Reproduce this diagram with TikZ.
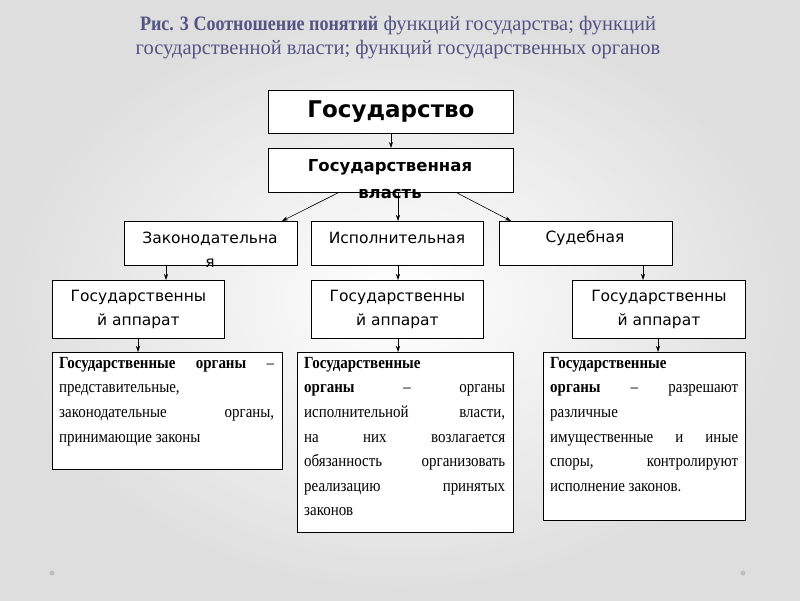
\documentclass[tikz,border=0pt]{standalone}
\usepackage{fontspec}
\usetikzlibrary{arrows.meta}
\setmainfont{Liberation Serif}
\newfontfamily\boxsans{DejaVu Sans}
\newfontfamily\condser[FakeStretch=0.88]{Liberation Serif}
\begin{document}
\begin{tikzpicture}[x=1pt,y=-1pt,
  box/.style={draw=black,line width=0.9pt,fill=white,anchor=north west,inner sep=0pt},
  lbl/.style={font=\boxsans\fontsize{15.5}{24}\selectfont,align=center,inner sep=0pt},
  arr/.style={-{Stealth[length=6pt,width=4pt]},line width=0.6pt},
  desc/.style={anchor=north west,inner sep=0pt,align=justify,font=\condser\fontsize{17}{24.6}\selectfont}]
\useasboundingbox (0,0) rectangle (800,600);
\shade[inner color=white,outer color=black!13] (0,0) rectangle (800,600);
\fill[black!25] (52,573) circle (2.5);
\fill[black!25] (743,573) circle (2.5);
% title
\node[font=\fontsize{20.5}{24}\selectfont,text=black!45!blue!35!gray,align=center] (title) at (398,38)
 {{\condser\bfseries Рис. 3 Соотношение понятий} функций государства; функций\\ государственной власти; функций государственных органов};
% top boxes
\node[box,minimum width=245,minimum height=43] (gos) at (268,90) {};
\node[font=\boxsans\bfseries\fontsize{23}{26}\selectfont] (gost) at (gos.center) {Государство};
\node[box,minimum width=245,minimum height=44] (vl) at (268,148) {};
\node[lbl,font=\boxsans\bfseries\fontsize{16.5}{27}\selectfont] (vlt) at (390,179) {Государственная\\власть};
% branches
\node[box,minimum width=173,minimum height=44] (zak) at (124,221) {};
\node[lbl] (zakt) at (210,250) {Законодательна\\я};
\node[box,minimum width=172,minimum height=44] (isp) at (311,221) {};
\node[lbl] (ispt) at (397,238) {Исполнительная};
\node[box,minimum width=173,minimum height=44] (sud) at (499,221) {};
\node[lbl] (sudt) at (585,238) {Судебная};
% apparatus
\node[box,minimum width=172,minimum height=58] (a1) at (52,280) {};
\node[lbl] (a1t) at (a1.center) {Государственны\\й аппарат};
\node[box,minimum width=172,minimum height=58] (a2) at (311,280) {};
\node[lbl] (a2t) at (a2.center) {Государственны\\й аппарат};
\node[box,minimum width=173,minimum height=58] (a3) at (572,280) {};
\node[lbl] (a3t) at (a3.center) {Государственны\\й аппарат};
% description boxes
\node[box,minimum width=230,minimum height=117] (d1) at (52,352) {};
\node[desc,text width=215] (d1t) at (59,357) {\textbf{Государственные органы} –\linebreak представительные,\newline законодательные органы,\linebreak принимающие законы};
\node[box,minimum width=216,minimum height=180] (d2) at (297,352) {};
\node[desc,text width=201] (d2t) at (304,357) {\textbf{Государственные}\newline \textbf{органы} – органы\linebreak исполнительной власти,\linebreak на них возлагается\linebreak обязанность организовать\linebreak реализацию принятых\linebreak законов};
\node[box,minimum width=202,minimum height=168] (d3) at (543,352) {};
\node[desc,text width=188] (d3t) at (550,357) {\textbf{Государственные}\newline \textbf{органы} – разрешают\linebreak различные\newline имущественные и иные\linebreak споры, контролируют\linebreak исполнение законов.};
% arrows
\draw[arr] (gos.south) -- (vl.north);
\draw[arr] (vl.south-|338,0) -- (zak.north east-|282,0);
\draw[arr] (vl.south-|398,0) -- (isp.north-|398,0);
\draw[arr] (vl.south-|457,0) -- (sud.north west-|511,0);
\draw[arr] (zak.south-|166,0) -- (a1.north-|166,0);
\draw[arr] (isp.south-|398,0) -- (a2.north-|398,0);
\draw[arr] (sud.south-|643,0) -- (a3.north-|643,0);
\draw[arr] (a1.south-|138,0) -- (d1.north-|138,0);
\draw[arr] (a2.south-|398,0) -- (d2.north-|398,0);
\draw[arr] (a3.south-|658,0) -- (d3.north-|658,0);
\end{tikzpicture}
\end{document}
